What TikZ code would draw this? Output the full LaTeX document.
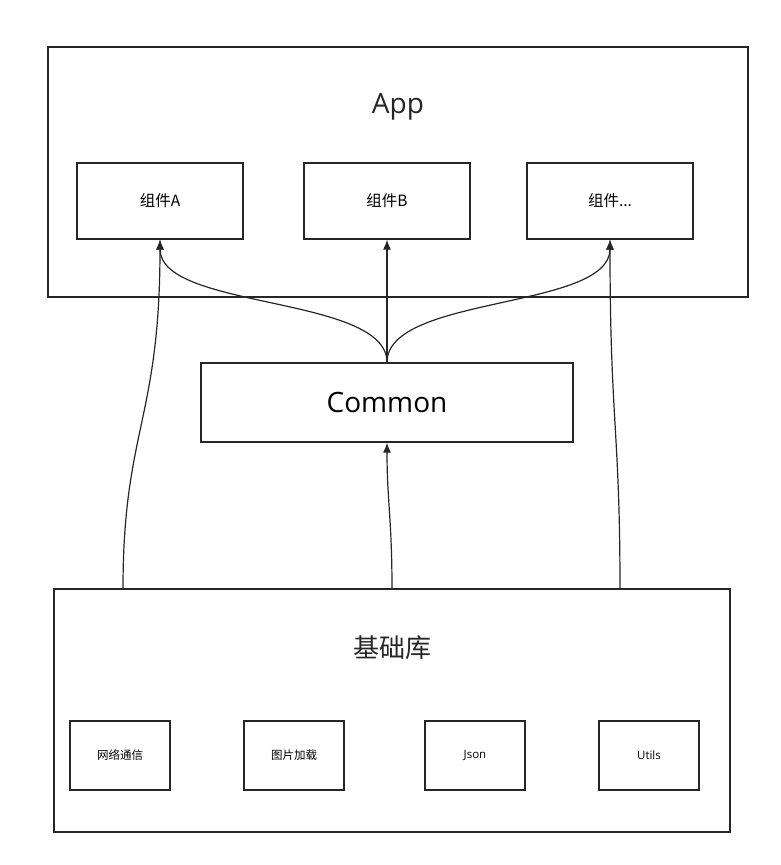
\documentclass[tikz,border=0pt]{standalone}
\usepackage{fontspec}
\setmainfont{Open Sans}
\newfontfamily\cjk{Noto Sans CJK SC}
\usetikzlibrary{arrows.meta}
\begin{document}
\begin{tikzpicture}[x=1pt,y=-1pt,
  box/.style={draw=black!85,line width=1.2pt,inner sep=0pt},
  conn/.style={draw=black!85,line width=1.2pt,-{Latex[length=10pt,width=8pt]}}]
\useasboundingbox (0,0) rectangle (780,865);
\node[box,minimum width=700,minimum height=250] (app) at (398,172) {};
\node[font=\fontsize{28}{32}\selectfont,text=black!85] (apptitle) at (398,107) {App};
\node[box,minimum width=166,minimum height=76,font=\cjk\fontsize{15.5}{18}\selectfont] (A) at (160,201) {组件A};
\node[box,minimum width=166,minimum height=76,font=\cjk\fontsize{15.5}{18}\selectfont] (B) at (387,201) {组件B};
\node[box,minimum width=166,minimum height=76,font=\cjk\fontsize{15.5}{18}\selectfont] (C) at (610,201) {组件...};
\node[box,minimum width=372,minimum height=79,font=\fontsize{28}{32}\selectfont] (common) at (387,402.5) {Common};
\node[box,minimum width=676,minimum height=243] (base) at (392,710.5) {};
\node[font=\cjk\fontsize{26}{30}\selectfont,text=black!85] (basetitle) at (392,648) {基础库};
\foreach \n/\x/\t in {n1/120/网络通信,n2/294/图片加载}
  \node[box,minimum width=100,minimum height=69,font=\cjk\fontsize{11.5}{13}\selectfont] (\n) at (\x,755.5) {\t};
\node[box,minimum width=100,minimum height=69,font=\fontsize{11.5}{13}\selectfont] (n3) at (475,755.5) {Json};
\node[box,minimum width=100,minimum height=69,font=\fontsize{11.5}{13}\selectfont] (n4) at (649,755.5) {Utils};
\coordinate (b1) at (123,589);
\coordinate (b2) at (392,589);
\coordinate (b3) at (620,589);
\draw[conn] (common.north) .. controls (387,295) and (160,310) .. (A.south);
\draw[conn] (common.north) -- (B.south);
\draw[conn] (common.north) .. controls (387,295) and (610,310) .. (C.south);
\draw[conn] (b1) .. controls (123,430) and (160,420) .. (A.south);
\draw[conn] (b2) .. controls (392,520) and (387,500) .. (common.south);
\draw[conn] (b3) .. controls (620,430) and (610,420) .. (C.south);
\end{tikzpicture}
\end{document}
